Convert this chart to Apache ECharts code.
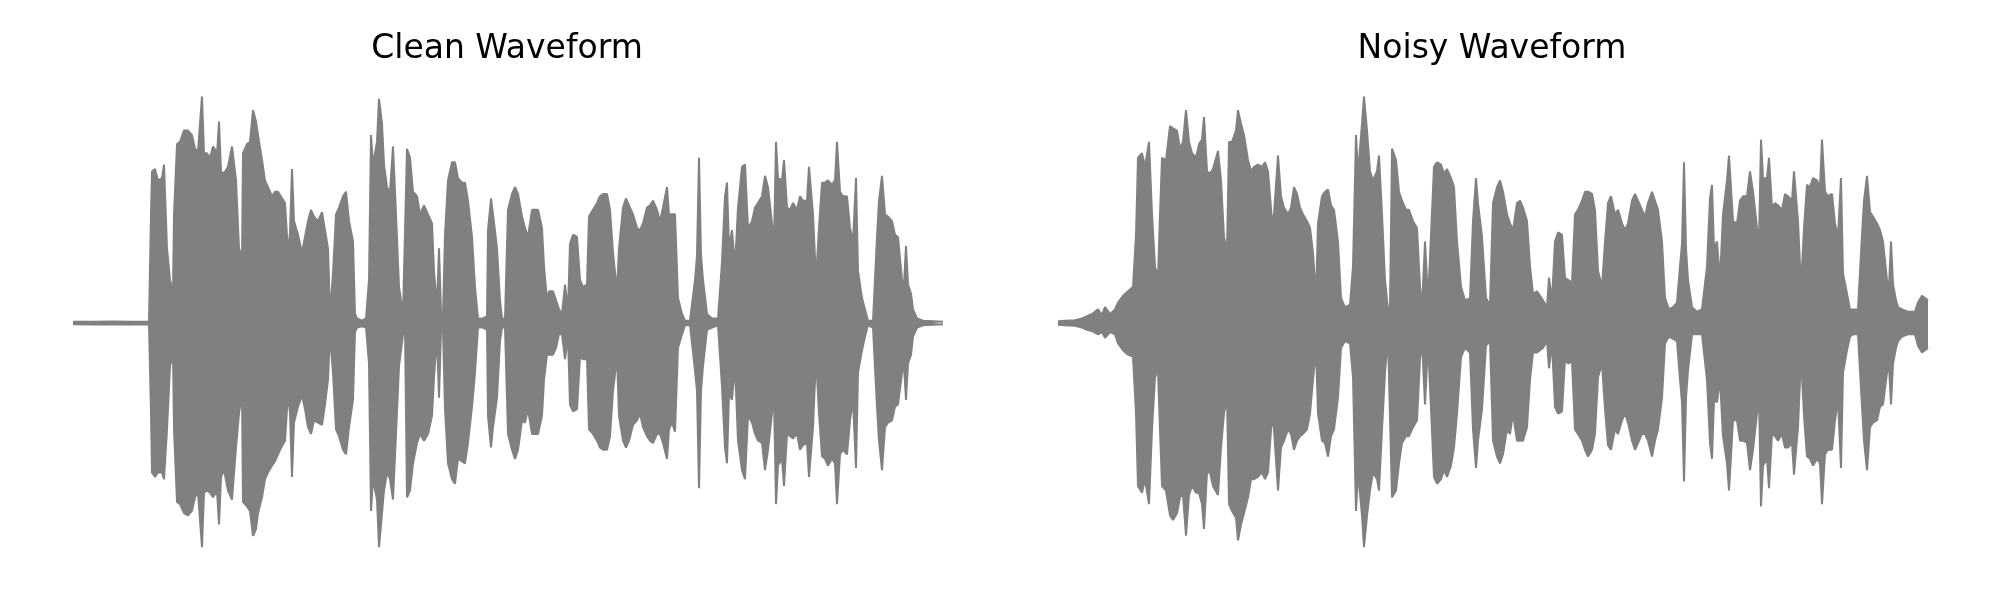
<!DOCTYPE html>
<html><head><meta charset="utf-8">
<script src="https://cdn.jsdelivr.net/npm/echarts@6/dist/echarts.min.js"></script>
<style>html,body{margin:0;padding:0;background:#fff}#c{width:2000px;height:600px}</style>
</head><body><div id="c"></div>
<script>
const titles = ['Clean Waveform', 'Noisy Waveform'];

// Clean waveform: envelope (upper / lower amplitude) read at sample positions
const cleanTime = [0,20,40,60,76,78,79,82,85,89,91,94,97,100,101,104,107,111,115,119,122,125,127,129,131,134,137,140,143,144,146,148,151,155,159,163,166,169,170,174,177,180,183,185,189,192,195,199,202,205,207,212,215,217,219,221,225,229,232,235,238,241,245,249,252,255,257,260,263,266,270,273,276,280,282,284,289,293,296,298,300,304,306,309,311,314,317,320,323,326,330,332,334,337,340,344,347,351,355,359,361,364,366,368,370,372,375,379,382,385,389,392,395,399,402,405,410,414,415,418,420,424,427,429,432,435,439,442,445,449,452,455,459,462,465,469,471,474,476,480,483,486,489,492,495,497,500,504,507,510,514,516,520,524,527,530,534,537,540,544,546,550,553,556,560,564,567,570,574,577,580,584,587,590,594,596,599,602,605,609,612,617,622,624,626,628,630,634,639,645,649,652,654,656,659,662,665,669,672,675,679,682,685,689,692,695,699,701,703,705,709,711,714,717,720,724,727,730,734,736,740,743,746,749,752,755,759,762,764,767,770,774,777,780,783,785,789,792,795,800,804,806,809,812,815,819,822,825,829,831,833,835,838,840,844,850,860,870];
const cleanUpper = [0.006,0.006,0.007,0.006,0.006,0.48,0.67,0.68,0.63,0.64,0.70,0.33,0.19,0.14,0.48,0.79,0.80,0.85,0.85,0.83,0.77,0.76,0.76,1.00,0.75,0.75,0.73,0.78,0.76,0.74,0.89,0.67,0.66,0.69,0.78,0.63,0.33,0.29,0.75,0.79,0.80,0.94,0.89,0.83,0.72,0.63,0.60,0.56,0.58,0.58,0.58,0.53,0.31,0.40,0.68,0.45,0.39,0.31,0.38,0.45,0.50,0.47,0.45,0.49,0.41,0.33,0.04,0.22,0.48,0.51,0.56,0.58,0.45,0.36,0.04,0.02,0.01,0.02,0.19,0.83,0.70,0.80,0.99,0.88,0.70,0.60,0.58,0.78,0.48,0.16,0.04,0.04,0.77,0.73,0.58,0.56,0.48,0.52,0.48,0.44,0.23,0.07,0.33,0.05,0.04,0.39,0.63,0.71,0.71,0.64,0.62,0.62,0.54,0.38,0.16,0.02,0.02,0.03,0.41,0.55,0.48,0.33,0.10,0.02,0.02,0.50,0.57,0.60,0.57,0.47,0.42,0.38,0.50,0.50,0.50,0.42,0.25,0.10,0.14,0.14,0.10,0.06,0.04,0.17,0.06,0.35,0.39,0.38,0.19,0.16,0.17,0.47,0.50,0.53,0.56,0.57,0.57,0.50,0.31,0.14,0.33,0.51,0.55,0.52,0.48,0.42,0.41,0.44,0.51,0.52,0.54,0.50,0.45,0.51,0.60,0.48,0.48,0.48,0.11,0.04,0.01,0.01,0.19,0.30,0.73,0.30,0.19,0.04,0.02,0.02,0.27,0.56,0.62,0.33,0.41,0.25,0.51,0.69,0.70,0.42,0.45,0.51,0.53,0.56,0.65,0.60,0.44,0.36,0.80,0.64,0.63,0.72,0.51,0.50,0.53,0.50,0.56,0.54,0.54,0.69,0.48,0.19,0.42,0.62,0.62,0.63,0.61,0.63,0.80,0.58,0.56,0.56,0.42,0.36,0.64,0.23,0.11,0.06,0.01,0.01,0.38,0.54,0.65,0.48,0.47,0.45,0.39,0.38,0.19,0.17,0.34,0.17,0.13,0.06,0.02,0.01,0.008,0.005];
const cleanLower = [-0.006,-0.007,-0.006,-0.007,-0.006,-0.40,-0.66,-0.68,-0.66,-0.66,-0.69,-0.47,-0.19,-0.14,-0.47,-0.79,-0.80,-0.84,-0.85,-0.83,-0.77,-0.75,-0.75,-0.99,-0.75,-0.74,-0.75,-0.77,-0.75,-0.74,-0.89,-0.68,-0.65,-0.74,-0.78,-0.55,-0.40,-0.31,-0.79,-0.81,-0.83,-0.94,-0.91,-0.84,-0.77,-0.69,-0.66,-0.63,-0.61,-0.58,-0.56,-0.52,-0.31,-0.40,-0.68,-0.44,-0.37,-0.32,-0.38,-0.46,-0.49,-0.43,-0.44,-0.45,-0.36,-0.25,-0.05,-0.22,-0.47,-0.50,-0.56,-0.58,-0.46,-0.34,-0.04,-0.02,-0.015,-0.02,-0.18,-0.83,-0.69,-0.78,-0.99,-0.84,-0.74,-0.66,-0.69,-0.78,-0.49,-0.19,-0.05,-0.03,-0.77,-0.74,-0.62,-0.53,-0.49,-0.52,-0.49,-0.41,-0.24,-0.06,-0.33,-0.04,-0.03,-0.38,-0.62,-0.69,-0.71,-0.60,-0.61,-0.62,-0.53,-0.37,-0.22,-0.02,-0.02,-0.03,-0.41,-0.55,-0.46,-0.33,-0.08,-0.02,-0.02,-0.49,-0.56,-0.60,-0.56,-0.43,-0.44,-0.38,-0.49,-0.49,-0.49,-0.41,-0.25,-0.14,-0.14,-0.14,-0.11,-0.05,-0.05,-0.16,-0.06,-0.36,-0.39,-0.38,-0.15,-0.16,-0.16,-0.47,-0.49,-0.52,-0.55,-0.56,-0.56,-0.50,-0.30,-0.15,-0.41,-0.52,-0.55,-0.52,-0.45,-0.43,-0.40,-0.46,-0.50,-0.52,-0.53,-0.49,-0.49,-0.53,-0.60,-0.47,-0.44,-0.48,-0.11,-0.05,-0.01,-0.01,-0.21,-0.30,-0.73,-0.30,-0.19,-0.03,-0.02,-0.01,-0.28,-0.55,-0.62,-0.31,-0.34,-0.19,-0.52,-0.65,-0.69,-0.41,-0.44,-0.49,-0.52,-0.53,-0.65,-0.56,-0.40,-0.33,-0.80,-0.63,-0.60,-0.72,-0.49,-0.50,-0.51,-0.49,-0.56,-0.54,-0.53,-0.68,-0.46,-0.15,-0.40,-0.59,-0.60,-0.63,-0.60,-0.62,-0.80,-0.58,-0.56,-0.58,-0.43,-0.34,-0.64,-0.22,-0.12,-0.06,-0.01,-0.02,-0.37,-0.52,-0.65,-0.46,-0.44,-0.43,-0.37,-0.36,-0.22,-0.19,-0.34,-0.18,-0.14,-0.06,-0.02,-0.01,-0.008,-0.005];

// Noisy waveform
const noisyTime = [0,7,17,24,29,34,40,44,47,52,57,60,65,70,75,78,80,84,87,91,94,97,100,102,104,108,112,115,119,122,125,128,131,134,138,141,144,146,149,152,155,160,163,166,169,171,174,178,180,183,186,190,193,196,200,204,207,210,214,216,220,223,226,230,233,236,239,242,245,249,252,255,258,260,264,267,270,273,276,280,283,287,292,295,298,300,304,306,309,312,315,319,321,324,327,330,332,334,338,341,344,348,351,355,359,362,364,367,370,373,376,379,383,386,389,393,396,399,403,407,412,415,418,420,424,428,432,435,439,442,445,449,452,455,459,462,465,469,472,475,479,482,485,489,491,494,497,500,504,507,510,514,517,520,524,527,530,534,537,540,544,547,550,553,557,560,564,567,570,574,577,580,584,587,590,594,597,600,604,607,611,615,619,622,624,626,628,630,634,639,644,649,652,654,656,659,662,665,669,671,675,679,682,685,689,692,695,699,701,703,705,709,711,714,717,720,724,727,730,734,736,740,743,746,749,752,755,759,762,764,767,770,774,777,780,783,785,789,792,795,800,804,806,809,812,815,819,822,825,829,831,833,835,838,840,844,850,857,860,864,867,870];
const noisyUpper = [0.008,0.01,0.012,0.02,0.03,0.04,0.06,0.035,0.07,0.04,0.06,0.09,0.12,0.14,0.16,0.39,0.73,0.75,0.69,0.80,0.48,0.25,0.20,0.48,0.73,0.72,0.87,0.86,0.85,0.77,0.80,0.94,0.80,0.75,0.73,0.79,0.81,0.91,0.67,0.66,0.68,0.76,0.63,0.38,0.32,0.80,0.80,0.85,0.94,0.88,0.83,0.72,0.67,0.69,0.70,0.69,0.71,0.67,0.45,0.48,0.74,0.56,0.51,0.48,0.51,0.60,0.57,0.51,0.48,0.45,0.42,0.31,0.11,0.44,0.56,0.58,0.59,0.52,0.50,0.36,0.11,0.07,0.08,0.25,0.83,0.66,0.88,1.00,0.85,0.67,0.63,0.67,0.74,0.48,0.19,0.06,0.07,0.77,0.72,0.58,0.54,0.50,0.50,0.45,0.42,0.16,0.07,0.36,0.10,0.39,0.69,0.71,0.70,0.66,0.68,0.64,0.60,0.36,0.16,0.10,0.11,0.45,0.64,0.53,0.38,0.11,0.08,0.53,0.60,0.63,0.58,0.48,0.44,0.41,0.53,0.54,0.51,0.45,0.25,0.13,0.14,0.12,0.10,0.07,0.20,0.10,0.36,0.40,0.39,0.20,0.19,0.18,0.48,0.50,0.54,0.58,0.58,0.57,0.50,0.23,0.16,0.36,0.53,0.56,0.48,0.50,0.44,0.41,0.44,0.54,0.57,0.54,0.50,0.47,0.53,0.58,0.54,0.50,0.36,0.11,0.06,0.07,0.09,0.25,0.35,0.71,0.33,0.19,0.07,0.05,0.06,0.25,0.55,0.61,0.33,0.36,0.19,0.48,0.63,0.74,0.45,0.44,0.54,0.56,0.56,0.67,0.58,0.42,0.36,0.81,0.64,0.64,0.73,0.51,0.53,0.52,0.50,0.57,0.56,0.54,0.67,0.45,0.16,0.42,0.61,0.60,0.64,0.63,0.60,0.81,0.58,0.56,0.57,0.44,0.38,0.64,0.22,0.13,0.06,0.06,0.06,0.39,0.54,0.65,0.49,0.47,0.44,0.41,0.36,0.19,0.16,0.36,0.17,0.10,0.07,0.06,0.05,0.05,0.09,0.12,0.11,0.10];
const noisyLower = [-0.008,-0.01,-0.012,-0.02,-0.03,-0.035,-0.05,-0.04,-0.065,-0.04,-0.05,-0.09,-0.12,-0.14,-0.15,-0.40,-0.72,-0.75,-0.69,-0.80,-0.47,-0.24,-0.21,-0.47,-0.72,-0.74,-0.85,-0.87,-0.84,-0.77,-0.76,-0.94,-0.76,-0.72,-0.75,-0.75,-0.80,-0.91,-0.66,-0.66,-0.72,-0.76,-0.55,-0.40,-0.33,-0.80,-0.83,-0.86,-0.96,-0.89,-0.84,-0.77,-0.69,-0.69,-0.68,-0.66,-0.69,-0.66,-0.41,-0.47,-0.74,-0.55,-0.52,-0.47,-0.49,-0.56,-0.52,-0.50,-0.49,-0.47,-0.40,-0.25,-0.12,-0.40,-0.52,-0.53,-0.59,-0.50,-0.47,-0.33,-0.11,-0.08,-0.09,-0.24,-0.83,-0.66,-0.85,-0.99,-0.85,-0.74,-0.66,-0.69,-0.74,-0.47,-0.22,-0.06,-0.06,-0.77,-0.74,-0.62,-0.53,-0.50,-0.50,-0.46,-0.43,-0.16,-0.08,-0.36,-0.09,-0.38,-0.68,-0.71,-0.69,-0.65,-0.68,-0.63,-0.55,-0.40,-0.15,-0.11,-0.13,-0.47,-0.64,-0.52,-0.38,-0.10,-0.08,-0.52,-0.59,-0.62,-0.58,-0.47,-0.49,-0.40,-0.52,-0.52,-0.52,-0.46,-0.25,-0.13,-0.13,-0.12,-0.11,-0.08,-0.20,-0.09,-0.37,-0.40,-0.39,-0.16,-0.18,-0.17,-0.47,-0.49,-0.52,-0.56,-0.59,-0.56,-0.49,-0.24,-0.18,-0.38,-0.54,-0.56,-0.47,-0.49,-0.43,-0.40,-0.44,-0.52,-0.56,-0.53,-0.49,-0.49,-0.52,-0.59,-0.52,-0.47,-0.33,-0.09,-0.06,-0.07,-0.08,-0.25,-0.35,-0.70,-0.33,-0.21,-0.05,-0.05,-0.05,-0.25,-0.53,-0.60,-0.34,-0.35,-0.25,-0.50,-0.62,-0.74,-0.43,-0.43,-0.52,-0.52,-0.53,-0.65,-0.56,-0.40,-0.33,-0.81,-0.63,-0.60,-0.73,-0.49,-0.50,-0.52,-0.49,-0.55,-0.55,-0.53,-0.67,-0.46,-0.15,-0.41,-0.59,-0.60,-0.63,-0.60,-0.62,-0.80,-0.58,-0.56,-0.56,-0.43,-0.34,-0.64,-0.22,-0.12,-0.06,-0.05,-0.05,-0.37,-0.52,-0.65,-0.46,-0.44,-0.43,-0.37,-0.36,-0.22,-0.19,-0.36,-0.18,-0.11,-0.08,-0.06,-0.05,-0.05,-0.10,-0.13,-0.12,-0.11];

const GRAY = '#808080';
const zip = (t, v) => t.map((x, i) => [x, v[i]]);
function band(idx, t, up, lo) {
  return [up, lo].map(v => ({
    type: 'line', xAxisIndex: idx, yAxisIndex: idx, data: zip(t, v),
    showSymbol: false, symbol: 'none', silent: true,
    lineStyle: { color: GRAY, width: 2 },
    areaStyle: { color: GRAY, opacity: 1 }
  }));
}
const titleStyle = { fontFamily: 'DejaVu Sans', fontSize: 33, fontWeight: 'normal', color: '#000' };
const chart = echarts.init(document.getElementById('c'));
chart.setOption({
  animation: false,
  backgroundColor: '#fff',
  title: [
    { text: titles[0], left: 502, top: 28, textAlign: 'center', textStyle: titleStyle },
    { text: titles[1], left: 1487, top: 28, textAlign: 'center', textStyle: titleStyle }
  ],
  grid: [
    { left: 73, width: 870, top: 74, height: 498 },
    { left: 1058, width: 870, top: 74, height: 498 }
  ],
  xAxis: [
    { type: 'value', gridIndex: 0, min: 0, max: 870, show: false },
    { type: 'value', gridIndex: 1, min: 0, max: 870, show: false }
  ],
  yAxis: [
    { type: 'value', gridIndex: 0, min: -1.1, max: 1.1, show: false },
    { type: 'value', gridIndex: 1, min: -1.1, max: 1.1, show: false }
  ],
  series: [
    ...band(0, cleanTime, cleanUpper, cleanLower),
    ...band(1, noisyTime, noisyUpper, noisyLower)
  ]
});
</script></body></html>
